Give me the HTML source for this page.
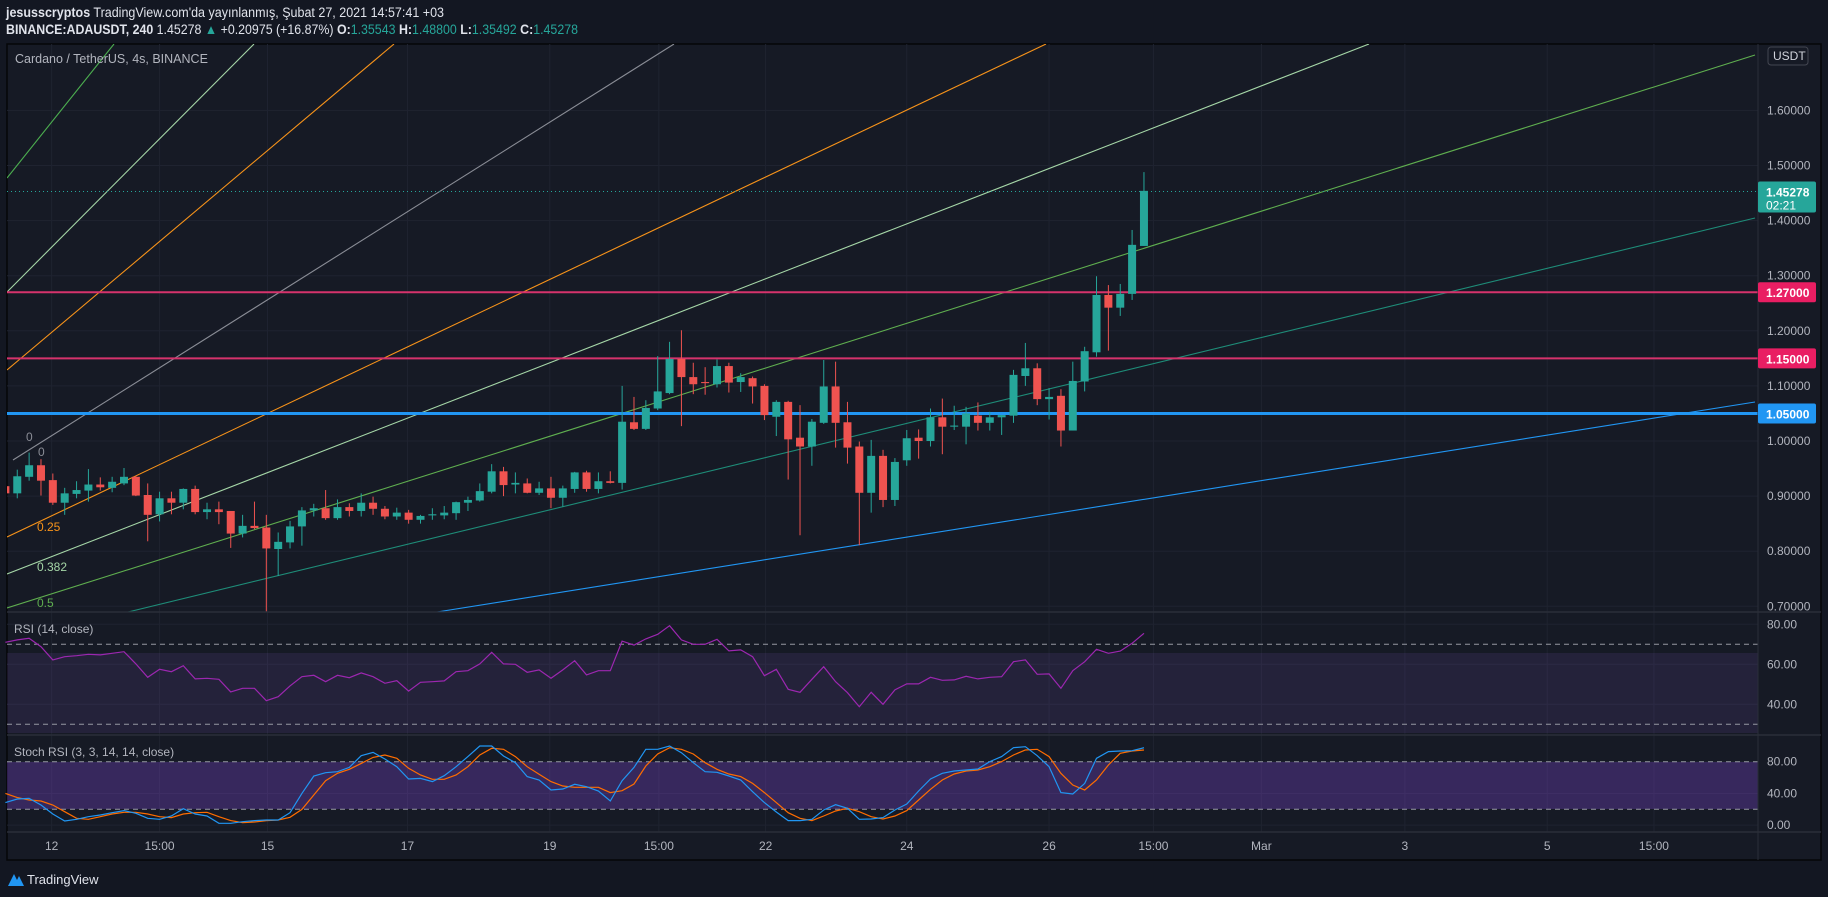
<!DOCTYPE html>
<html><head><meta charset="utf-8">
<style>
html,body{margin:0;padding:0;background:#131722;width:1828px;height:897px;overflow:hidden;font-family:"Liberation Sans",sans-serif}
svg text{font-family:"Liberation Sans",sans-serif}
</style></head>
<body>
<svg id="c" width="1828" height="897" viewBox="0 0 1828 897" xmlns="http://www.w3.org/2000/svg">
<rect x="0" y="0" width="1828" height="897" fill="#131722"/>
<text x="6" y="17" font-size="13.5" fill="#e0e3eb" textLength="438" lengthAdjust="spacingAndGlyphs"><tspan font-weight="bold">jesusscryptos</tspan> TradingView.com'da yayınlanmış, Şubat 27, 2021 14:57:41 +03</text>
<text x="6" y="34" font-size="13.5" fill="#e0e3eb" textLength="572" lengthAdjust="spacingAndGlyphs"><tspan font-weight="bold">BINANCE:ADAUSDT, 240</tspan> 1.45278 <tspan fill="#26a69a">▲</tspan> +0.20975 (+16.87%) <tspan font-weight="bold">O:</tspan><tspan fill="#26a69a">1.35543</tspan> <tspan font-weight="bold">H:</tspan><tspan fill="#26a69a">1.48800</tspan> <tspan font-weight="bold">L:</tspan><tspan fill="#26a69a">1.35492</tspan> <tspan font-weight="bold">C:</tspan><tspan fill="#26a69a">1.45278</tspan></text>
<rect x="7" y="44" width="1814" height="816" fill="#161a25" stroke="#050608" stroke-width="1.5"/>
<g id="grid"></g>
<rect x="7" y="653" width="1751" height="80" fill="rgba(126,87,194,0.14)"/>
<rect x="7" y="762" width="1751" height="47" fill="rgba(126,70,210,0.32)"/>
<g id="main" clip-path="url(#mc)"></g>
<g id="ind"></g>
<g id="axis"></g>
<defs><clipPath id="mc"><rect x="7" y="44" width="1751" height="568"/></clipPath></defs>
<text x="15" y="63" font-size="12.5" fill="#b2b5be">Cardano / TetherUS, 4s, BINANCE</text>
<text x="14" y="633" font-size="12" fill="#b2b5be">RSI (14, close)</text>
<text x="14" y="756" font-size="12" fill="#b2b5be">Stoch RSI (3, 3, 14, 14, close)</text>
<g><path d="M8 886 L14 874 L17 880 L19 876 L24 886 Z" fill="#2196f3"/><text x="27" y="884" font-size="13" fill="#e0e3eb">TradingView</text></g>
</svg>
<script>
const opens=[0.918,0.905,0.935,0.956,0.929,0.888,0.904,0.910,0.921,0.915,0.923,0.935,0.902,0.867,0.896,0.888,0.913,0.871,0.876,0.873,0.832,0.846,0.843,0.804,0.816,0.845,0.874,0.878,0.860,0.880,0.873,0.888,0.877,0.863,0.870,0.857,0.865,0.865,0.869,0.888,0.892,0.908,0.945,0.921,0.923,0.906,0.914,0.897,0.913,0.943,0.913,0.927,0.924,1.034,1.022,1.059,1.087,1.149,1.116,1.107,1.103,1.136,1.107,1.114,1.100,1.044,1.071,1.006,0.990,1.033,1.099,1.034,0.990,0.906,0.973,0.893,0.965,1.006,1.000,1.043,1.026,1.026,1.046,1.033,1.043,1.046,1.118,1.132,1.076,1.082,1.019,1.108,1.161,1.265,1.242,1.267,1.354];
const highs=[0.923,0.948,0.979,0.967,0.941,0.915,0.927,0.949,0.934,0.935,0.951,0.937,0.923,0.908,0.908,0.914,0.919,0.888,0.890,0.873,0.866,0.890,0.866,0.834,0.855,0.880,0.886,0.911,0.894,0.887,0.905,0.899,0.882,0.879,0.875,0.866,0.878,0.882,0.890,0.899,0.923,0.958,0.953,0.943,0.932,0.926,0.935,0.919,0.944,0.946,0.943,0.945,1.100,1.080,1.074,1.154,1.180,1.201,1.142,1.134,1.148,1.142,1.123,1.117,1.103,1.074,1.073,1.065,1.040,1.147,1.144,1.071,0.999,1.002,0.984,0.969,1.020,1.021,1.059,1.077,1.064,1.062,1.070,1.053,1.047,1.129,1.178,1.141,1.096,1.094,1.144,1.171,1.299,1.283,1.285,1.383,1.488];
const lows=[0.902,0.896,0.928,0.901,0.884,0.866,0.896,0.890,0.910,0.907,0.920,0.900,0.818,0.854,0.867,0.876,0.867,0.858,0.849,0.806,0.825,0.840,0.690,0.755,0.805,0.810,0.863,0.857,0.857,0.863,0.863,0.866,0.858,0.857,0.850,0.850,0.857,0.858,0.857,0.873,0.890,0.905,0.900,0.905,0.905,0.902,0.878,0.881,0.906,0.908,0.905,0.923,0.912,1.020,1.020,1.056,1.085,1.027,1.085,1.084,1.097,1.088,1.089,1.068,1.038,1.009,0.930,0.829,0.955,1.031,0.988,0.959,0.811,0.870,0.880,0.882,0.955,0.968,0.990,0.976,1.020,0.994,1.019,1.019,1.011,1.033,1.100,1.065,1.039,0.990,1.019,1.090,1.153,1.164,1.227,1.256,1.354];
const closes=[0.905,0.936,0.956,0.928,0.888,0.905,0.911,0.921,0.916,0.926,0.935,0.901,0.866,0.896,0.888,0.913,0.871,0.876,0.871,0.832,0.846,0.842,0.805,0.817,0.845,0.874,0.878,0.860,0.880,0.873,0.888,0.877,0.863,0.870,0.857,0.864,0.867,0.870,0.889,0.893,0.909,0.945,0.920,0.924,0.906,0.914,0.897,0.914,0.943,0.913,0.927,0.924,1.035,1.022,1.060,1.090,1.149,1.116,1.103,1.105,1.136,1.106,1.116,1.099,1.047,1.071,1.003,0.990,1.035,1.099,1.033,0.988,0.906,0.973,0.893,0.962,1.005,1.000,1.043,1.026,1.028,1.050,1.033,1.043,1.047,1.120,1.132,1.076,1.080,1.019,1.109,1.163,1.265,1.242,1.267,1.356,1.454];
const rsiValues=[71.0,72.2,73.0,68.8,62.2,63.8,64.3,65.0,64.7,65.5,66.3,60.2,53.5,57.5,56.3,59.3,52.7,53.0,52.5,46.2,48.0,48.0,41.8,43.8,49.2,53.8,54.5,51.3,54.5,53.3,55.7,53.8,50.5,51.8,46.6,51.0,51.3,51.7,56.3,56.8,60.2,66.0,60.2,60.0,56.0,57.2,53.0,57.2,61.8,54.7,56.8,56.8,71.6,69.6,72.7,75.0,79.3,72.2,70.0,70.0,72.5,66.7,67.2,63.8,54.3,57.5,47.5,46.0,52.5,58.8,51.3,45.8,38.8,46.0,40.0,47.2,50.2,50.2,53.5,52.0,52.2,54.0,52.7,53.5,53.8,61.3,62.2,55.0,55.2,48.0,56.8,61.3,67.5,65.5,66.6,70.5,75.5];
const stochK=[28.4,33.0,33.8,25.4,14.1,5.2,7.4,10.7,12.8,15.7,18.3,14.9,8.6,7.4,11.6,20.8,14.1,11.6,2.3,2.3,4.4,5.7,6.5,6.5,15.7,40.1,62.0,66.2,67.4,72.9,87.6,91.8,83.4,73.7,58.2,59.0,54.9,62.4,73.7,86.4,99.8,99.8,87.2,78.8,61.2,56.9,44.3,45.6,51.5,48.5,43.1,30.5,56.1,72.9,95.6,95.6,99.8,91.4,78.8,67.4,66.6,62.0,56.9,42.2,28.4,16.6,5.7,5.7,7.4,19.1,25.8,21.2,7.4,7.8,9.5,19.1,26.7,43.1,58.2,65.4,68.3,69.6,70.8,80.1,86.4,97.7,99.0,87.6,73.7,41.0,39.3,52.7,84.3,92.7,93.5,93.9,97.7];
const stochD=[40.1,34.7,31.7,30.5,25.4,17.0,8.6,7.4,10.7,14.1,16.2,16.2,14.1,10.7,9.5,14.1,15.7,16.2,10.7,5.7,3.2,4.0,5.7,6.5,9.9,19.9,38.0,56.1,65.4,70.4,77.9,85.5,88.5,84.3,71.7,63.3,57.8,57.8,63.3,73.7,88.5,96.9,95.6,86.4,73.7,64.1,54.9,49.4,47.7,47.7,47.7,41.0,43.5,51.9,74.6,89.7,97.7,95.6,89.7,78.8,70.4,64.5,61.2,52.7,41.0,28.4,15.7,8.6,5.7,11.6,17.9,21.2,17.0,10.7,7.8,11.6,18.3,31.7,45.2,56.9,64.5,68.3,69.6,73.7,80.1,88.5,94.8,95.6,86.4,65.4,50.6,44.3,56.9,75.9,90.6,93.5,94.8];
const priceTicks=[1.6,1.5,1.4,1.3,1.2,1.1,1.0,0.9,0.8,0.7];
const levelPrices=[1.27,1.15,1.05];
const lastPrice=1.45278;
const timeLabels=["12","15:00","15","17","19","15:00","22","24","26","15:00","Mar","3","5","15:00"];
const timeSlots=[3.9,13.0,22.1,33.9,45.9,55.1,64.1,76.0,88.0,96.8,105.9,118.0,130.0,139.0];

const NS="http://www.w3.org/2000/svg";
function xs(i){return 5.4+i*11.86;}
function yp(p){return 441-(p-1)*551;}
function yr(v){return 644.3+(70-v)*2;}
function ys(v){return 809.3-(v-20)*0.793;}
function mk(parent,tag,attrs){const e=document.createElementNS(NS,tag);for(const k in attrs)e.setAttribute(k,attrs[k]);document.getElementById(parent).appendChild(e);return e;}

priceTicks.forEach(p=>{const g=mk('grid','line',{x1:7,x2:1758,y1:yp(p),y2:yp(p),stroke:'#1f2330','stroke-width':1});

});
[80,60,40].forEach(v=>{const g=mk('grid','line',{x1:7,x2:1758,y1:yr(v),y2:yr(v),stroke:'#1f2330'});

});
[80,40,0].forEach(v=>{const g=mk('grid','line',{x1:7,x2:1758,y1:ys(v),y2:ys(v),stroke:'#1f2330'});

});
timeSlots.forEach(s=>{const g=mk('grid','line',{x1:xs(s),x2:xs(s),y1:44,y2:832,stroke:'#1f2330'});

});

const fan=[[7,178,114,44,'#4caf50'],[7,292,254,44,'#a5d6a7'],[7,370,394,44,'#f7931a'],[13,460,674,44,'#8a8d96'],[7,537,1046,44,'#f7931a'],[7,574,1369,44,'#a5d6a7'],[7,608,1755,55,'#5fae4f'],[128,612,1755,218,'#1e8c78'],[437,612,1755,402,'#2196f3']];
fan.forEach(f=>{const l=mk('main','line',{x1:f[0],y1:f[1],x2:f[2],y2:f[3],stroke:f[4],'stroke-width':1.1});

});
const fanLbl=[[26,441,'0','#8a8d96'],[38,456,'0','#8a8d96'],[37,531,'0.25','#f7931a'],[37,571,'0.382','#a5d6a7'],[37,607,'0.5','#5fae4f']];
fanLbl.forEach(f=>{const t=mk('main','text',{x:f[0],y:f[1],fill:f[3],'font-size':12});t.textContent=f[2];

});

const lvlColors=['#d6336c','#d6336c','#2196f3'];
levelPrices.forEach((p,i)=>{const l=mk('main','line',{x1:7,x2:1758,y1:yp(p),y2:yp(p),stroke:lvlColors[i],'stroke-width':i==2?3:2});

});
{const l=mk('main','line',{x1:7,x2:1758,y1:yp(lastPrice),y2:yp(lastPrice),stroke:'#26a69a','stroke-width':1,'stroke-dasharray':'1 3'});

}

opens.forEach((o,i)=>{const c=closes[i],up=c>=o,col=up?'#26a69a':'#ef5350',x=xs(i);
const w=mk('main','line',{x1:x,x2:x,y1:yp(highs[i]),y2:yp(lows[i]),stroke:col,'stroke-width':1});


const t=yp(Math.max(o,c)),b=yp(Math.min(o,c));
const r=mk('main','rect',{x:x-4,y:t,width:8,height:Math.max(1,b-t),fill:col});

});

function dash(y,name){const l=mk('ind','line',{x1:7,x2:1758,y1:y,y2:y,stroke:'#9598a1','stroke-width':1,'stroke-dasharray':'5 4'});

}
dash(yr(70),'rsi-upper-band');dash(yr(30),'rsi-lower-band');dash(ys(80),'stoch-upper-band');dash(ys(20),'stoch-lower-band');
function poly(vals,fy,col,name){const pts=vals.map((v,i)=>xs(i).toFixed(1)+','+fy(v).toFixed(1)).join(' ');
const p=mk('ind','polyline',{points:pts,fill:'none',stroke:col,'stroke-width':1.2});

}
poly(rsiValues,yr,'#9c27b0','rsi-line');
poly(stochD,ys,'#ff6d00','stoch-d-line');
poly(stochK,ys,'#2196f3','stoch-k-line');

[[612,'rsi-pane-separator'],[735,'stoch-pane-separator'],[832,'time-axis-separator']].forEach(s=>{const l=mk('axis','line',{x1:7,x2:1821,y1:s[0],y2:s[0],stroke:'#2a2e39','stroke-width':1.5});

});
{const l=mk('axis','line',{x1:1758,x2:1758,y1:44,y2:860,stroke:'#2a2e39','stroke-width':1});

}

priceTicks.forEach(p=>{const t=mk('axis','text',{x:1767,y:yp(p)+4,fill:'#b2b5be','font-size':12});t.textContent=p.toFixed(5);

});
{const b=mk('axis','rect',{x:1768,y:47,width:40,height:18,rx:3,fill:'#161a25',stroke:'#434651'});


const t=mk('axis','text',{x:1773,y:60,fill:'#d1d4dc','font-size':12});t.textContent='USDT';

}
levelPrices.forEach((p,i)=>{const r=mk('axis','rect',{x:1758,y:yp(p)-10,width:58,height:20,rx:2,fill:lvlColors[i]=='#d6336c'?'#e91e63':'#2196f3'});


const t=mk('axis','text',{x:1766,y:yp(p)+5,fill:'#fff','font-size':12,'font-weight':'bold'});t.textContent=p.toFixed(5);

});
{const r=mk('axis','rect',{x:1758,y:yp(lastPrice)-10,width:58,height:31,rx:2,fill:'#26a69a'});


const t=mk('axis','text',{x:1766,y:yp(lastPrice)+5,fill:'#fff','font-size':12,'font-weight':'bold'});t.textContent=lastPrice.toFixed(5);


const t2=mk('axis','text',{x:1766,y:yp(lastPrice)+18,fill:'#fff','font-size':12});t2.textContent='02:21';

}
[80,60,40].forEach(v=>{const t=mk('axis','text',{x:1767,y:yr(v)+4,fill:'#b2b5be','font-size':12});t.textContent=v.toFixed(2);

});
[80,40,0].forEach(v=>{const t=mk('axis','text',{x:1767,y:ys(v)+4,fill:'#b2b5be','font-size':12});t.textContent=v.toFixed(2);

});
timeLabels.forEach((s,i)=>{const t=mk('axis','text',{x:xs(timeSlots[i]),y:850,fill:'#b2b5be','font-size':12,'text-anchor':'middle'});t.textContent=s;

});
</script>
</body></html>
